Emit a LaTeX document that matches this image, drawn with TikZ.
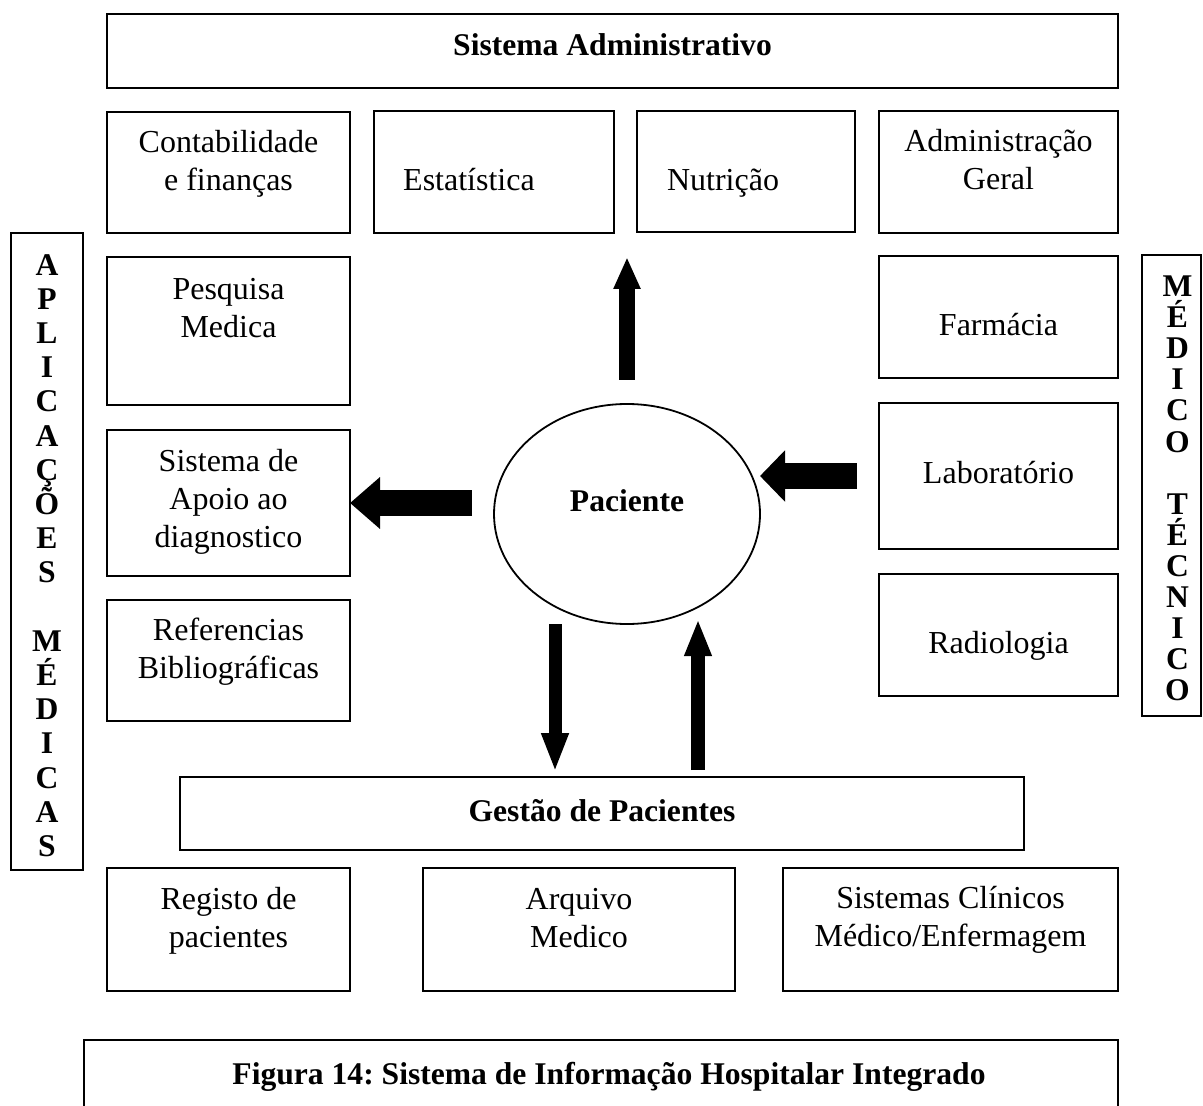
\documentclass[tikz,border=0pt]{standalone}
\usepackage{fontspec}
\setmainfont{Liberation Serif}
\usetikzlibrary{arrows.meta}
\usetikzlibrary{calc}
\usetikzlibrary{shapes.geometric}
\usetikzlibrary{positioning, fit}
\frenchspacing

\begin{document}
\begin{tikzpicture}[
		x=0.5pt, y=-0.5pt,
		box/.style={draw, line width=1.2pt, inner sep=0pt, outer sep=0pt},
		txt/.style={inner sep=0pt, align=center, font=\fontsize{16}{19}\selectfont},
		btxt/.style={inner sep=0pt, align=center, font=\fontsize{15.8}{19}\bfseries},
		vtxt/.style={inner sep=0pt, align=center, font={\fontsize{15.8}{#1}\bfseries\setlength{\lineskiplimit}{-10pt}}},
		fat/.style args={#1/#2/#3}{line width=#1, -{Triangle[width=#2, length=#3]}}
	]
	\useasboundingbox (0,0) rectangle (1203,1106);

	% top block
	\node[box, fit={(107,14) (1118,88)}] (admin) {};
	\node[box, fit={(107,112) (350,233)}] (cont) {};
	\node[box, fit={(374,111) (614,233)}] (estat) {};
	\node[box, fit={(637,111) (855,232)}] (nutr) {};
	\node[box, fit={(879,111) (1118,233)}] (admG) {};
	\node[btxt, anchor=base] (adminT) at ($(admin.north)+(0,42)$) {Sistema Administrativo};
	\node[txt, anchor=north] (contT) at ($(cont.north)+(0,18)$) {Contabilidade\\e finanças};
	\node[txt, anchor=base] (estatT) at ($(estat.north)+(-25,80)$) {Estatística};
	\node[txt, anchor=base] (nutrT) at ($(nutr.north)+(-23,80)$) {Nutrição};
	\node[txt, anchor=north] (admGT) at ($(admG.north)+(0,18)$) {Administração\\Geral};

	% left column
	\node[box, fit={(107,257) (350,405)}] (pesq) {};
	\node[box, fit={(107,430) (350,576)}] (apoio) {};
	\node[box, fit={(107,600) (350,721)}] (refs) {};
	\node[txt, anchor=north] (pesqT) at ($(pesq.north)+(0,21)$) {Pesquisa\\Medica};
	\node[txt, anchor=north] (apoioT) at ($(apoio.north)+(0,19)$) {Sistema de\\Apoio ao\\diagnostico};
	\node[txt, anchor=north] (refsT) at ($(refs.north)+(0,18)$) {Referencias\\Bibliográficas};

	% right column
	\node[box, fit={(879,256) (1118,378)}] (farm) {};
	\node[box, fit={(879,403) (1118,549)}] (lab) {};
	\node[box, fit={(879,574) (1118,696)}] (radio) {};
	\node[txt, anchor=base] (farmT) at ($(farm.north)+(0,80)$) {Farmácia};
	\node[txt, anchor=base] (labT) at ($(lab.north)+(0,80)$) {Laboratório};
	\node[txt, anchor=base] (radioT) at ($(radio.north)+(0,79)$) {Radiologia};

	% side bands
	\node[box, fit={(11,233) (83,870)}] (aplic) {};
	\node[box, fit={(1142,255) (1201,716)}] (medtec) {};
	\node[vtxt=17.1] (aplicT) at ($(aplic.center)+(0,4)$)
		{A\\P\\L\\I\\C\\A\\Ç\\Õ\\E\\S\\\mbox{}\\M\\É\\D\\I\\C\\A\\S};
	\node[vtxt=15.55] (medtecT) at ($(medtec.center)+(6,3)$)
		{M\\É\\D\\I\\C\\O\\\mbox{}\\T\\É\\C\\N\\I\\C\\O};

	% patient
	\node[draw, ellipse, line width=0.9pt, inner sep=0pt, outer sep=0pt,
		minimum width=133pt, minimum height=110pt] (pac) at (627,514) {};
	\node[btxt, anchor=base] (pacT) at ($(pac.center)+(0,-3)$) {Paciente};

	% bottom block
	\node[box, fit={(180,777) (1024,850)}] (gestao) {};
	\node[box, fit={(107,868) (350,991)}] (registo) {};
	\node[box, fit={(423,868) (735,991)}] (arquivo) {};
	\node[box, fit={(783,868) (1118,991)}] (clinic) {};
	\node[btxt, anchor=base] (gestaoT) at ($(gestao.north)+(0,44)$) {Gestão de Pacientes};
	\node[txt, anchor=north] (registoT) at ($(registo.north)+(0,19)$) {Registo de\\pacientes};
	\node[txt, anchor=north] (arquivoT) at ($(arquivo.north)+(0,20)$) {Arquivo\\Medico};
	\node[txt, anchor=north] (clinicT) at ($(clinic.north)+(0,18)$) {Sistemas Clínicos\\Médico/Enfermagem};

	% caption (cut at the page edge)
	\node[box, fit={(84,1040) (1118,1140)}] (caption) {};
	\node[btxt, anchor=base] (captionT) at ($(caption.north)+(8,44)$)
		{Figura 14: Sistema de Informação Hospitalar Integrado};

	% arrows
	\draw[fat=8pt/12.5pt/16pt] ($(pac.north)+(0,-24)$) -- (pac.north |- pesq.north);
	\draw[fat=13pt/25pt/15pt] ($(apoio.east -| pac.west)+(-22,0)$) -- (apoio.east);
	\draw[fat=13pt/25pt/12.5pt] ($(lab.west)+(-22,0)$) -- (lab.west -| pac.east);
	\draw[fat=6.5pt/12.5pt/19.5pt] ($(pac.south)+(-72,0)$) -- ($(pac.south |- gestao.north)+(-72,-5)$);
	\draw[fat=7pt/12.5pt/18.5pt] ($(pac.south |- gestao.north)+(71,-7)$) -- ($(pac.south)+(71,-5)$);
\end{tikzpicture}
\end{document}
